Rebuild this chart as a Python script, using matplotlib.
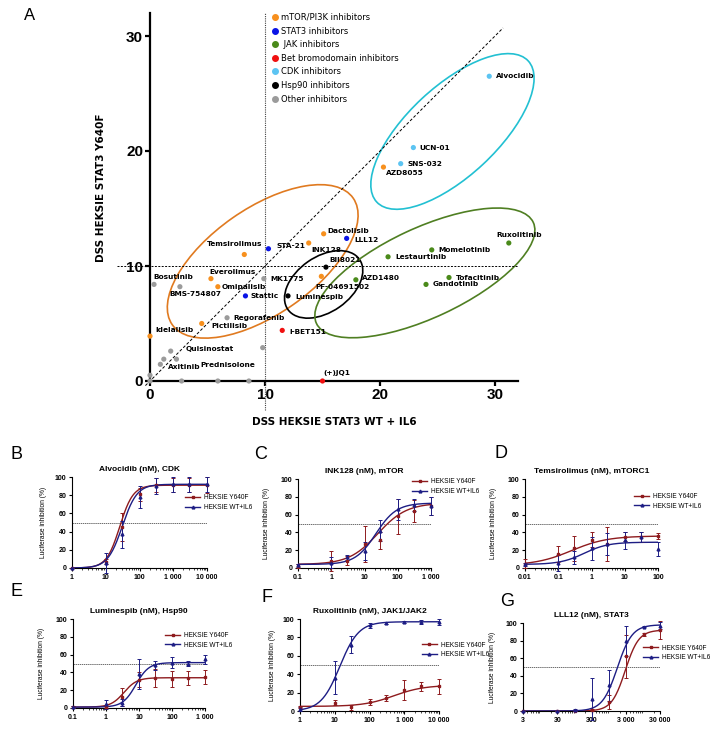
import matplotlib
matplotlib.use("Agg")
import matplotlib.pyplot as plt
import numpy as np
from matplotlib.patches import Ellipse
from matplotlib.lines import Line2D
from matplotlib.ticker import FixedLocator, LogLocator, FuncFormatter, NullFormatter

W, H = 720, 731

# ---------------- panel A data ----------------
group_names = ["mTOR/PI3K inhibitors", "STAT3 inhibitors", " JAK inhibitors",
               "Bet bromodomain inhibitors", "CDK inhibitors", "Hsp90 inhibitors",
               "Other inhibitors"]
group_colors = ["#F7901E", "#0A14E6", "#4A8A1A", "#F01010", "#5CC4F2", "#000000", "#9B9B9B"]

drug_names = ["Alvocidib", "UCN-01", "SNS-032", "AZD8055", "Dactolisib", "LLL12", "INK128",
              "STA-21", "Temsirolimus", "BII8021", "Lestaurtinib", "Momelotinib", "Ruxolitinib",
              "Tofacitinib", "Gandotinib", "AZD1480", "PF-04691502", "Luminespib", "MK1775",
              "Everolimus", "Omipalisib", "Bosutinib", "BMS-754807", "Stattic", "Regorafenib",
              "Pictilisib", "Idelalisib", "I-BET151", "Quisinostat", "Axitinib", "Prednisolone",
              "(+)JQ1", "", "", "", "", "", "", ""]
dss_wt = [29.5, 22.9, 21.8, 20.3, 15.1, 17.1, 13.8,
          10.3, 8.2, 15.3, 20.7, 24.5, 31.2,
          26.0, 24.0, 17.9, 14.9, 12.0, 9.9,
          5.3, 5.9, 0.35, 2.6, 8.3, 6.7,
          4.5, 0.0, 11.5, 1.8, 0.9, 2.3,
          15.0, 9.8, 1.2, 0.0, 0.0, 2.75, 5.9, 8.6]
dss_y640f = [26.5, 20.3, 18.9, 18.6, 12.8, 12.4, 12.0,
             11.5, 11.0, 9.9, 10.8, 11.4, 12.0,
             9.0, 8.4, 8.8, 9.1, 7.4, 8.9,
             8.9, 8.2, 8.4, 8.2, 7.4, 5.5,
             5.0, 3.9, 4.4, 2.6, 1.45, 1.9,
             0.0, 2.9, 1.9, 0.5, 0.0, 0.0, 0.0, 0.0]
drug_group = [4, 4, 4, 0, 0, 1, 0,
              1, 0, 5, 2, 2, 2,
              2, 2, 2, 0, 5, 6,
              0, 0, 6, 6, 1, 6,
              0, 0, 3, 6, 6, 6,
              3, 6, 6, 6, 6, 6, 6, 6]
# label offsets in pixels (dx, dy up)
label_off = [(7, 0), (6, 0), (7, 0), (3, -6), (4, 3), (8, -2), (3, -7),
             (8, 3), (-37, 10), (3, 7), (7, 0), (7, 0), (-12, 8),
             (7, 0), (7, 0), (6, 2), (-6, -11), (7, -1), (7, 0),
             (-2, 7), (4, 0), (-1, 7.5), (-11, -7), (5, 0), (6, 0),
             (10, -3), (5, 6), (7, -2), (15, 2), (8, -3), (24, -6),
             (1, 8), (0, 0), (0, 0), (0, 0), (0, 0), (0, 0), (0, 0), (0, 0)]

# ellipses: centre x, centre y, width, height, angle
ell_cx = [26.3, 9.8, 15.1, 23.9]
ell_cy = [21.7, 10.4, 8.4, 9.4]
ell_w = [18.0, 19.2, 7.6, 20.8]
ell_h = [7.8, 9.2, 4.8, 7.8]
ell_ang = [43, 35, 35, 25]
ell_col = ["#22C0D2", "#E07A20", "#000000", "#4F7F22"]

# ---------------- dose response panels ----------------
panel_letters = ["B", "C", "D", "E", "F", "G"]
panel_titles = ["Alvocidib (nM), CDK", "INK128 (nM), mTOR", "Temsirolimus (nM), mTORC1",
                "Luminespib (nM), Hsp90", "Ruxolitinib (nM), JAK1/JAK2", "LLL12 (nM), STAT3"]
dose_b = [1, 10, 30, 100, 300, 1000, 3000, 10000]
dose_c = [0.1, 1, 3, 10, 30, 100, 300, 1000]
dose_d = [0.01, 0.1, 0.3, 1, 3, 10, 30, 100]
dose_e = [0.1, 1, 3, 10, 30, 100, 300, 1000]
dose_f = [1, 10, 30, 100, 300, 1000, 3000, 10000]
dose_g = [3, 30, 100, 300, 1000, 3000, 10000, 30000]

y640f_b = [0, 7, 45, 81, 91, 91, 91, 91]
y640f_b_sd = [0, 3, 15, 7, 8, 8, 8, 9]
wt_b = [0, 6, 37, 78, 90, 92, 92, 92]
wt_b_sd = [0, 11, 15, 12, 9, 8, 8, 8]

y640f_c = [2, 8, 8, 27, 31, 58, 64, 70]
y640f_c_sd = [2, 11, 5, 20, 10, 20, 12, 10]
wt_c = [3, 6, 12, 19, 42, 66, 71, 70]
wt_c_sd = [2, 6, 3, 10, 12, 12, 7, 10]

y640f_d = [5, 16, 22, 32, 27, 35, 35, 36]
y640f_d_sd = [5, 9, 14, 8, 19, 5, 6, 3]
wt_d = [4, 6, 12, 22, 27, 31, 35, 21]
wt_d_sd = [2, 9, 7, 13, 12, 10, 6, 8]

y640f_e = [1, 1, 12, 32, 34, 33, 34, 35]
y640f_e_sd = [1, 1, 10, 8, 10, 9, 8, 8]
wt_e = [1, 4, 6, 38, 48, 51, 50, 55]
wt_e_sd = [1, 5, 4, 17, 5, 6, 3, 5]

y640f_f = [4, 9, 4, 10, 14, 23, 27, 27]
y640f_f_sd = [1, 3, 3, 3, 3, 11, 5, 8]
wt_f = [2, 36, 72, 93, 96, 97, 97, 97]
wt_f_sd = [2, 18, 9, 3, 1, 1, 2, 3]

y640f_g = [0, 0, 0, 1, 10, 62, 87, 92]
y640f_g_sd = [0, 0, 0, 1, 8, 24, 2, 10]
wt_g = [0, 0, 1, 14, 29, 80, 96, 97]
wt_g_sd = [0, 0, 1, 24, 18, 17, 1, 4]

# 4PL fit parameters: bottom, top, EC50, hill
fit_y640f = [(0, 91, 26, 2.2), (4, 73, 25, 1.0), (3, 36, 0.25, 0.8),
             (1, 34, 3.5, 2.2), (5, 28, 500, 1.0), (0, 92, 2900, 2.2)]
fit_wt = [(0, 92, 31, 2.0), (4, 73, 22, 1.4), (4, 29, 0.6, 1.2),
          (1, 51, 8, 2.2), (0, 97, 14, 1.6), (0, 98, 1700, 2.0)]

# axes boxes in pixels: left, right, top, bottom
panel_box = [(72, 207, 477, 568), (298, 431, 479, 568), (525, 658, 479, 568),
             (73, 205, 619, 708), (300, 439, 619, 711), (523, 660, 623, 711)]
letter_pos = [(17, 455), (261, 455), (501, 453), (17, 592), (267, 597), (507, 601)]
legend_pos = [(0.84, 0.72), (0.86, 0.915), (0.82, 0.75), (0.70, 0.76), (0.875, 0.665), (0.876, 0.66)]
ylab_x = [47, 270, 497, 45, 276, 496]

RED = "#8E1B1E"
BLUE = "#1D1D84"


def box(l, r, t, b):
    return [l / W, 1 - b / H, (r - l) / W, (b - t) / H]


def fmt_dose(v, pos):
    if v >= 1:
        return f"{v:,.0f}".replace(",", " ")
    return f"{v:g}"


def four_pl(x, p):
    bottom, top, ec50, hill = p
    return bottom + (top - bottom) / (1 + (ec50 / x) ** hill)


fig = plt.figure(figsize=(W / 100, H / 100), dpi=100)

# ---------------- panel A ----------------
ax = fig.add_axes(box(150, 518, 13, 381))
ax.set_xlim(0, 32)
ax.set_ylim(0, 32)
for s in ["top", "right"]:
    ax.spines[s].set_visible(False)
for s in ["left", "bottom"]:
    ax.spines[s].set_linewidth(1.6)
ax.set_xticks([0, 10, 20, 30])
ax.set_yticks([0, 10, 20, 30])
ax.tick_params(length=3.5, width=1.6, pad=1.5)
for lab in ax.get_xticklabels() + ax.get_yticklabels():
    lab.set_fontfamily("Liberation Sans")
    lab.set_fontweight("bold")
    lab.set_fontsize(11)

ax.axhline(10, xmin=-0.09, xmax=1.0, color="black", lw=0.7, ls=(0, (2, 1.5)), clip_on=False)
ax.axvline(10, ymin=-0.08, ymax=1.0, color="#444444", lw=0.8, ls=(0, (1, 1)), clip_on=False)
diag = [-0.4, 30.7]
ax.plot(diag, diag, color="black", lw=0.7, ls=(0, (3, 2)), clip_on=False)

for cx, cy, w, h, a, c in zip(ell_cx, ell_cy, ell_w, ell_h, ell_ang, ell_col):
    ax.add_patch(Ellipse((cx, cy), w, h, angle=a, fill=False, ec=c, lw=1.2, clip_on=False))

cols = [group_colors[g] for g in drug_group]
ax.scatter(dss_wt, dss_y640f, s=14, c=cols, zorder=4, clip_on=False, linewidths=0)
for name, x, y, (dx, dy) in zip(drug_names, dss_wt, dss_y640f, label_off):
    if name:
        ax.annotate(name, (x, y), xytext=(dx, dy), textcoords="offset pixels",
                    ha="left", va="center", fontsize=5.3, fontweight="bold", zorder=5)

handles = [Line2D([], [], marker="o", ls="none", color=c, markersize=4) for c in group_colors]
ax.legend(handles, group_names, loc="upper left", bbox_to_anchor=((270 - 150) / 368, (381 - 13) / 368),
          frameon=False, fontsize=6, handletextpad=0.1, labelspacing=0.55, borderpad=0,
          borderaxespad=0, handlelength=1.2)

fig.text(334 / W, 1 - 422 / H, "DSS HEKSIE STAT3 WT + IL6", ha="center", va="center",
         fontsize=7.5, fontweight="bold")
fig.text(101 / W, 1 - 188 / H, "DSS HEKSIE STAT3 Y640F", ha="center", va="center",
         rotation=90, fontsize=7.5, fontweight="bold")
fig.text(30 / W, 1 - 15 / H, "A", ha="center", va="center", fontsize=12, family="Liberation Sans")

# ---------------- panels B-G ----------------
doses = [dose_b, dose_c, dose_d, dose_e, dose_f, dose_g]
y640f = [y640f_b, y640f_c, y640f_d, y640f_e, y640f_f, y640f_g]
y640f_sd = [y640f_b_sd, y640f_c_sd, y640f_d_sd, y640f_e_sd, y640f_f_sd, y640f_g_sd]
wt = [wt_b, wt_c, wt_d, wt_e, wt_f, wt_g]
wt_sd = [wt_b_sd, wt_c_sd, wt_d_sd, wt_e_sd, wt_f_sd, wt_g_sd]

for i in range(6):
    l, r, t, b = panel_box[i]
    ax = fig.add_axes(box(l, r, t, b))
    d = np.array(doses[i], dtype=float)
    ax.set_xscale("log")
    ax.set_xlim(d[0], d[-1])
    ax.set_ylim(0, 100)
    for s in ["top", "right"]:
        ax.spines[s].set_visible(False)
    for s in ["left", "bottom"]:
        ax.spines[s].set_linewidth(0.8)
    if i == 5:
        ax.xaxis.set_major_locator(FixedLocator([3, 30, 300, 3000, 30000]))
    else:
        ax.xaxis.set_major_locator(LogLocator(base=10, numticks=20))
    ax.xaxis.set_minor_locator(LogLocator(base=10, subs=np.arange(2, 10), numticks=20))
    ax.xaxis.set_major_formatter(FuncFormatter(fmt_dose))
    ax.xaxis.set_minor_formatter(NullFormatter())
    ax.set_yticks([0, 20, 40, 60, 80, 100])
    ax.tick_params(which="major", length=2.5, width=0.8, pad=1.5, labelsize=5)
    ax.tick_params(which="minor", length=1.5, width=0.5)
    for lab in ax.get_xticklabels() + ax.get_yticklabels():
        lab.set_fontweight("bold")
        lab.set_fontfamily("Liberation Sans")

    ax.axhline(50, color="#333333", lw=0.5, ls=(0, (2, 1)))

    xs = np.logspace(np.log10(d[0]), np.log10(d[-1]), 200)
    ax.plot(xs, four_pl(xs, fit_y640f[i]), color=RED, lw=1.0, zorder=3)
    ax.plot(xs, four_pl(xs, fit_wt[i]), color=BLUE, lw=1.0, zorder=3)
    ax.errorbar(d, y640f[i], yerr=y640f_sd[i], fmt="s", color=RED, ms=2, elinewidth=0.7,
                capsize=1.3, capthick=0.7, clip_on=False, zorder=4)
    ax.errorbar(d, wt[i], yerr=wt_sd[i], fmt="^", color=BLUE, ms=2, elinewidth=0.7,
                capsize=1.3, capthick=0.7, clip_on=False, zorder=4)

    h = [Line2D([], [], color=RED, marker="s", ms=2, lw=1.0),
         Line2D([], [], color=BLUE, marker="^", ms=2, lw=1.0)]
    ax.legend(h, ["HEKSIE Y640F", "HEKSIE WT+IL6"], loc="center left",
              bbox_to_anchor=legend_pos[i], frameon=False,
              prop={"family": "Liberation Sans", "size": 4.7},
              handlelength=2.3, handletextpad=0.6, labelspacing=0.4, borderpad=0, borderaxespad=0)

    ax.set_title(panel_titles[i], fontsize=6, fontweight="bold", family="Liberation Sans", pad=4)
    ax.set_ylabel("Luciferase inhibition (%)", fontsize=4.8, family="Liberation Sans")
    ax.yaxis.set_label_coords((ylab_x[i] - l) / (r - l), 0.5)

    lx, ly = letter_pos[i]
    fig.text(lx / W, 1 - ly / H, panel_letters[i], ha="center", va="center", fontsize=13,
             family="Liberation Sans")

fig.savefig("out.png", dpi=100)
